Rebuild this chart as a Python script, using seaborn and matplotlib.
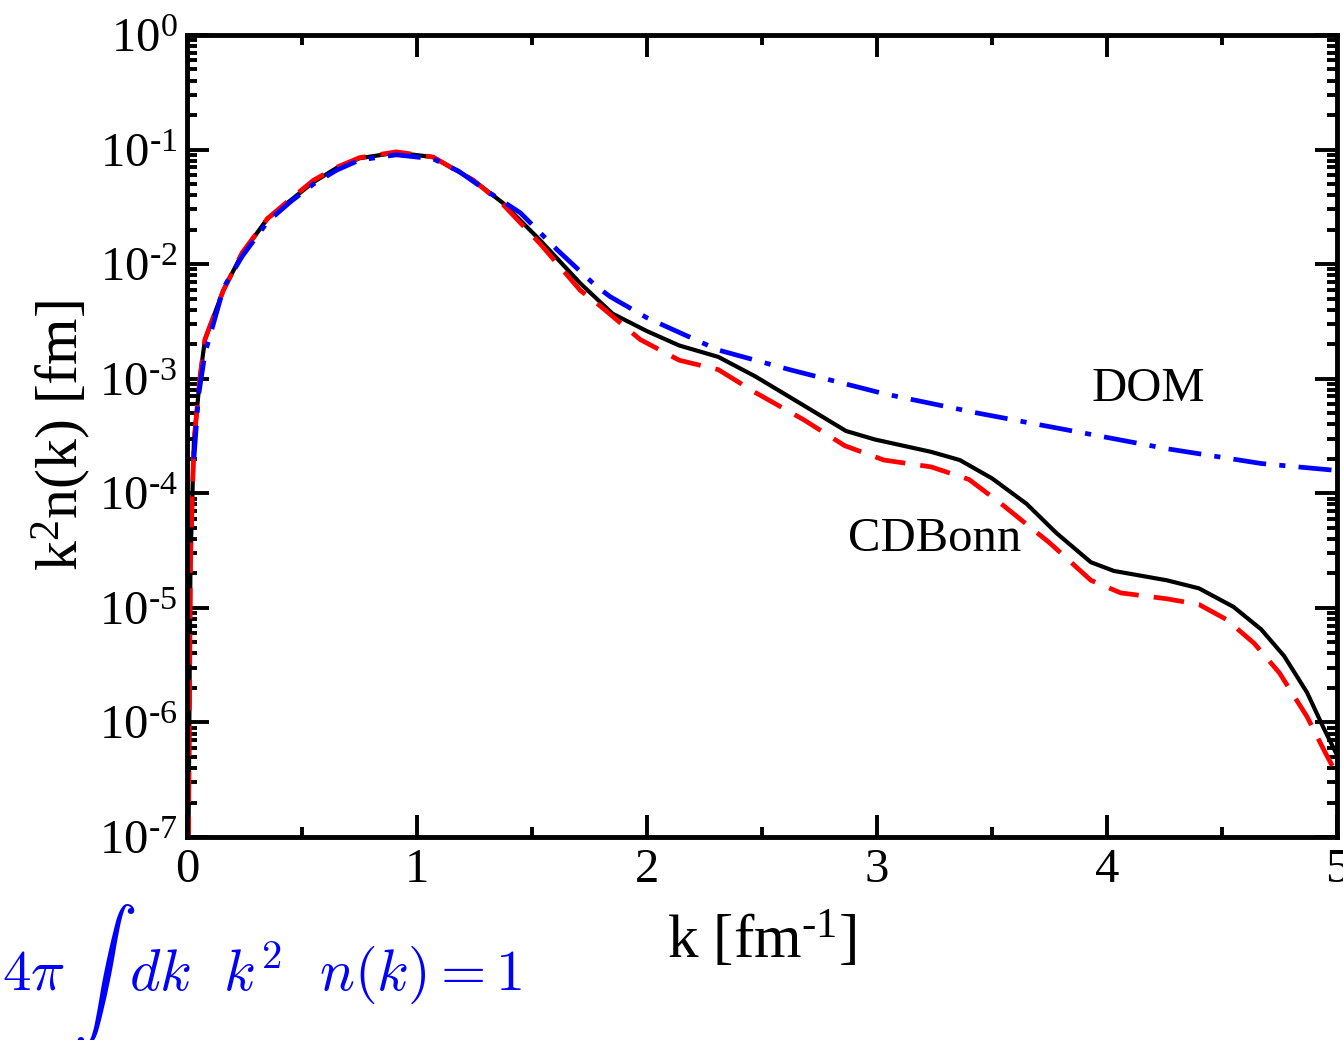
import numpy as np
import pandas as pd
import matplotlib
matplotlib.use("Agg")
import matplotlib.pyplot as plt
import matplotlib.ticker as mticker
import seaborn as sns

# ---- data ----
k_cdbonn = [0.005, 0.015, 0.03, 0.057, 0.078, 0.158, 0.24, 0.35, 0.45, 0.55, 0.65, 0.75, 0.91,
            1.07, 1.245, 1.375, 1.535, 1.71, 1.85, 2.0, 2.14, 2.31, 2.47, 2.66, 2.865, 2.99,
            3.235, 3.36, 3.50, 3.65, 3.78, 3.93, 4.03, 4.26, 4.40, 4.55, 4.67, 4.77, 4.87, 4.94, 5.0]
n_cdbonn = [3.2e-8, 2.5e-5, 2.8e-4, 1.05e-3, 2.2e-3, 5.9e-3, 1.24e-2, 2.5e-2, 3.6e-2, 5.2e-2,
            6.9e-2, 8.4e-2, 9.4e-2, 8.6e-2, 5.4e-2, 3.4e-2, 1.62e-2, 6.8e-3, 3.7e-3, 2.6e-3,
            1.95e-3, 1.55e-3, 1.05e-3, 6.2e-4, 3.5e-4, 2.95e-4, 2.3e-4, 1.95e-4, 1.35e-4, 8.1e-5,
            4.5e-5, 2.5e-5, 2.1e-5, 1.74e-5, 1.48e-5, 1.02e-5, 6.5e-6, 3.8e-6, 1.82e-6, 9.1e-7, 5.2e-7]

k_red = [0.005, 0.015, 0.03, 0.057, 0.078, 0.158, 0.24, 0.35, 0.45, 0.55, 0.65, 0.75, 0.91,
         1.07, 1.245, 1.375, 1.535, 1.71, 1.78, 1.97, 2.14, 2.31, 2.47, 2.68, 2.86, 3.03,
         3.235, 3.40, 3.54, 3.75, 3.93, 4.06, 4.26, 4.40, 4.52, 4.64, 4.75, 4.87, 4.95, 5.0]
n_red = [3.2e-8, 2.5e-5, 2.8e-4, 1.05e-3, 2.2e-3, 5.9e-3, 1.26e-2, 2.5e-2, 3.7e-2, 5.4e-2,
         7.0e-2, 8.5e-2, 9.55e-2, 8.6e-2, 5.4e-2, 3.3e-2, 1.51e-2, 5.9e-3, 4.6e-3, 2.2e-3,
         1.45e-3, 1.2e-3, 7.6e-4, 4.4e-4, 2.6e-4, 1.95e-4, 1.7e-4, 1.32e-4, 8.1e-5, 3.7e-5,
         1.74e-5, 1.35e-5, 1.2e-5, 1.07e-5, 7.9e-6, 4.9e-6, 2.7e-6, 1.12e-6, 5.4e-7, 3.5e-7]

k_dom = [0.03, 0.05, 0.078, 0.16, 0.24, 0.35, 0.45, 0.55, 0.65, 0.75, 0.91, 1.07, 1.18, 1.30,
         1.45, 1.61, 1.78, 1.84, 2.0, 2.11, 2.31, 2.62, 3.03, 3.44, 3.85, 4.26, 4.67, 5.0]
n_dom = [2.0e-4, 7.1e-4, 1.66e-3, 6.3e-3, 1.17e-2, 2.34e-2, 3.5e-2, 5.0e-2, 6.6e-2, 8.1e-2,
         9.0e-2, 8.3e-2, 6.5e-2, 4.4e-2, 2.8e-2, 1.33e-2, 6.4e-3, 5.2e-3, 3.4e-3, 2.7e-3,
         1.78e-3, 1.2e-3, 7.4e-4, 5.0e-4, 3.5e-4, 2.45e-4, 1.82e-4, 1.58e-4]

x_ticks = [0, 1, 2, 3, 4, 5]
x_ticklabels = ["0", "1", "2", "3", "4", "5"]
y_exponents = [-7, -6, -5, -4, -3, -2, -1, 0]

# ---- style ----
sns.set_style("ticks")
plt.rcParams["font.family"] = ["Liberation Serif", "DejaVu Serif"]
plt.rcParams["mathtext.fontset"] = "custom"
plt.rcParams["mathtext.rm"] = "Liberation Serif"
plt.rcParams["mathtext.it"] = "Liberation Serif:italic"
plt.rcParams["mathtext.default"] = "it"
for key in ["text.color", "axes.labelcolor", "xtick.color", "ytick.color", "axes.edgecolor"]:
    plt.rcParams[key] = "black"

fig = plt.figure(figsize=(13.43, 10.40), dpi=100)
ax = fig.add_axes([187 / 1343, 1 - 837 / 1040, (1337 - 187) / 1343, (837 - 35) / 1040])
ax.set_yscale("log")

df_b = pd.DataFrame({"k": k_cdbonn, "v": n_cdbonn})
df_r = pd.DataFrame({"k": k_red, "v": n_red})
df_d = pd.DataFrame({"k": k_dom, "v": n_dom})

sns.lineplot(data=df_b, x="k", y="v", ax=ax, color="black", lw=3.0,
             estimator=None, sort=False)
sns.lineplot(data=df_r, x="k", y="v", ax=ax, color="#ff0000", lw=3.4,
             estimator=None, sort=False)
ax.lines[-1].set_dashes([6.5, 3.2])
sns.lineplot(data=df_d, x="k", y="v", ax=ax, color="#0000ff", lw=3.4,
             estimator=None, sort=False)
ax.lines[-1].set_dashes([7.0, 2.8, 1.3, 2.8])

ax.set_xlim(0, 5)
ax.set_ylim(1e-7, 1)

ax.set_xticks(x_ticks)
ax.set_xticklabels(x_ticklabels)
ax.xaxis.set_minor_locator(mticker.MultipleLocator(0.5))
ax.set_yticks([10.0 ** e for e in y_exponents])
ax.set_yticklabels([r"$\mathrm{10}^{\text{%d}}$" % e for e in y_exponents])
ax.yaxis.set_minor_locator(mticker.LogLocator(base=10, subs=np.arange(2, 10), numticks=20))
ax.yaxis.set_minor_formatter(mticker.NullFormatter())

for s in ax.spines.values():
    s.set_linewidth(3.5)
    s.set_color("black")
    s.set_visible(True)

ax.tick_params(axis="both", which="major", direction="in", length=16, width=2.8,
               top=True, right=True, labelsize=35, pad=8, colors="black")
ax.tick_params(axis="both", which="minor", direction="in", length=7, width=2.8,
               top=True, right=True)
ax.tick_params(axis="y", which="major", pad=7)

ax.set_xlabel(r"k [fm$^{\text{-1}}$]", fontsize=44, labelpad=14)
ax.set_ylabel(r"k$^{\mathrm{2}}$n(k) [fm]", fontsize=43, labelpad=4)

ax.text(4.18, 8.1e-4, "DOM", fontsize=35, ha="center", va="center", color="black")
ax.text(3.25, 4.0e-5, "CDBonn", fontsize=35, ha="center", va="center", color="black")

blue = "#0000ff"
yb = 1 - 990 / 1040
fig.text(2 / 1343, yb, r"$4\pi$", fontsize=41, color=blue, ha="left", va="baseline",
         math_fontfamily="cm")
fig.text(73 / 1343, 1 - 976 / 1040, r"$\int$", fontsize=46, color=blue, ha="left",
         va="center", math_fontfamily="cm")
fig.text(129 / 1343, yb, r"$dk\ \ k^2\ \ n(k) = 1$",
         fontsize=42, color=blue, ha="left", va="baseline", math_fontfamily="cm")

fig.savefig("out.png", dpi=100, facecolor="white")
